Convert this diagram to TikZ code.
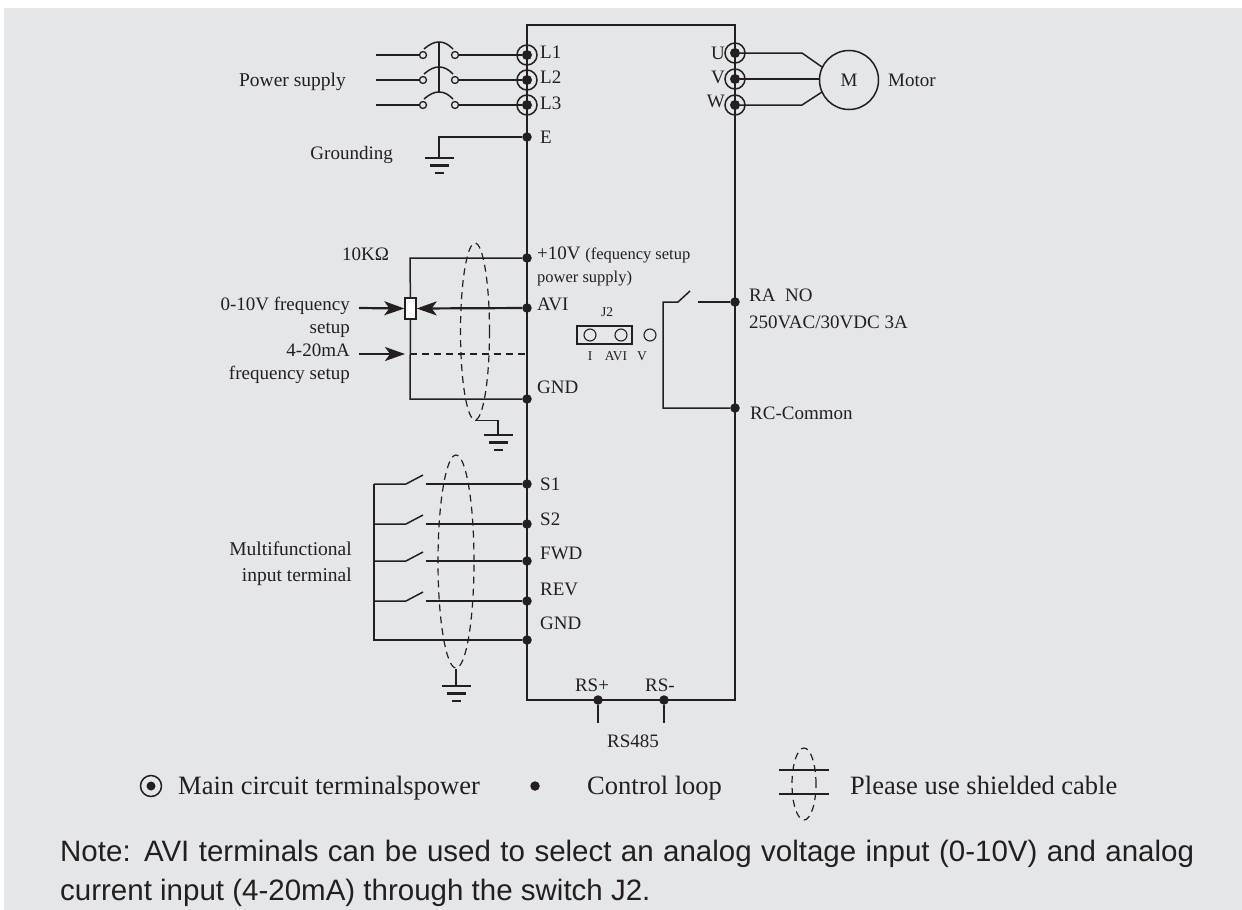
\documentclass[tikz,border=0pt]{standalone}
\usepackage{fontspec}
\setmainfont{Liberation Serif}
\newfontfamily\notefont{Liberation Sans}
\usetikzlibrary{arrows.meta,shapes.geometric}
\definecolor{ink}{HTML}{231F20}
\definecolor{panel}{HTML}{E5E6E8}
\tikzset{
  wire/.style={draw=ink, line width=2.2pt},
  thinwire/.style={draw=ink, line width=1.5pt},
  lbl/.style={font=\fontsize{19}{23}\selectfont, text=ink, inner sep=0pt},
  lbls/.style={font=\fontsize{16.5}{23}\selectfont, text=ink, inner sep=0pt},
  lblj/.style={font=\fontsize{13.5}{16}\selectfont, text=ink, inner sep=0pt},
  lbll/.style={font=\fontsize{26.5}{30}\selectfont, text=ink, inner sep=0pt, anchor=mid west, yshift=-6pt},
  txtw/.style={anchor=mid west, yshift=-4pt},
  txte/.style={anchor=mid east, yshift=-4pt},
  dot/.style={circle, fill=ink, draw=none, minimum size=9.5pt, inner sep=0pt},
  maindot/.style={dot, minimum size=10pt},
  ring/.style={circle, draw=ink, line width=1.5pt, minimum size=20pt, inner sep=0pt},
  contact/.style={circle, draw=ink, line width=1.3pt, minimum size=7pt, inner sep=0pt},
  jpin/.style={circle, draw=ink, line width=1.1pt, minimum size=12pt, inner sep=0pt},
  shield/.style={ellipse, draw=ink, line width=1.2pt, dash pattern=on 7pt off 5pt, inner sep=0pt},
  inarrow/.style={wire, -{Stealth[length=20pt,width=14pt,inset=5pt]}},
  gndsym/.pic={
    \draw[wire] (-14.5,0) -- (14.5,0);
    \draw[wire] (-9.5,7.5) -- (9.5,7.5);
    \draw[wire] (-4.5,15) -- (4.5,15);
  }
}
\begin{document}
\begin{tikzpicture}[x=1pt, y=-1pt]
  \useasboundingbox (0,0) rectangle (1242,910);
  \fill[panel] (4,8) rectangle (1242,910);

  \draw[wire] (527,25) rectangle (735,700);

  \node (L1) [maindot] at (527,55) {};
  \node (L2) [maindot] at (527,80) {};
  \node (L3) [maindot] at (527,105) {};
  \node (L1r) [ring] at (L1) {};
  \node (L2r) [ring] at (L2) {};
  \node (L3r) [ring] at (L3) {};
  \node (E) [dot] at (527,137) {};
  \node (U) [maindot] at (735,53) {};
  \node (V) [maindot] at (735,79) {};
  \node (W) [maindot] at (735,105) {};
  \node (Ur) [ring] at (U) {};
  \node (Vr) [ring] at (V) {};
  \node (Wr) [ring] at (W) {};
  \node (p10) [dot] at (527,258) {};
  \node (avi) [dot] at (527,308) {};
  \node (gnda) [dot] at (527,399) {};
  \node (s1) [dot] at (527,484) {};
  \node (s2) [dot] at (527,524) {};
  \node (fwd) [dot] at (527,561) {};
  \node (rev) [dot] at (527,601) {};
  \node (gndb) [dot] at (527,640) {};
  \node (ra) [dot] at (735,302) {};
  \node (rc) [dot] at (735,408) {};
  \node (rsp) [dot] at (598,700) {};
  \node (rsm) [dot] at (664,700) {};

  \node (la1) [contact] at (423,55) {};
  \node (lb1) [contact] at (455,55) {};
  \node (la2) [contact] at (423,80) {};
  \node (lb2) [contact] at (455,80) {};
  \node (la3) [contact] at (423,105) {};
  \node (lb3) [contact] at (455,105) {};
  \coordinate (in1) at (376,55);
  \coordinate (in2) at (376,80);
  \coordinate (in3) at (376,105);
  \draw[wire] (in1) -- (la1);
  \draw[wire] (in2) -- (la2);
  \draw[wire] (in3) -- (la3);
  \draw[wire] (lb1) -- (L1);
  \draw[wire] (lb2) -- (L2);
  \draw[wire] (lb3) -- (L3);
  \draw[thinwire] (424,49) .. controls (430,44) and (434,42) .. (439,42) .. controls (444,42) and (448,44) .. (453,49);
  \draw[thinwire] (424,74) .. controls (430,69) and (434,67) .. (439,67) .. controls (444,67) and (448,69) .. (453,74);
  \draw[thinwire] (424,99) .. controls (430,94) and (434,92) .. (439,92) .. controls (444,92) and (448,94) .. (453,99);
  \draw[wire] (439,42) -- (439,92);

  \coordinate (gnde) at (439,158);
  \draw[thinwire] (E) -| (gnde);
  \pic (ge) at (gnde) {gndsym};

  \node (mot) [circle, draw=ink, line width=1.5pt, minimum size=59pt, inner sep=0pt, lbl] at (849,80) {M};
  \draw[thinwire] (U) -- (802,53) -- (822,67);
  \draw[wire] (V) -- (mot.west |- V);
  \draw[thinwire] (W) -- (802,105) -- (822,92);

  \node (rpot) [rectangle, draw=ink, fill=white, line width=1.4pt, minimum width=11pt, minimum height=21pt, inner sep=0pt] at (410.5,308.5) {};
  \coordinate (top10) at (410,258);
  \coordinate (bot10) at (410,399);
  \coordinate (i1) at (359,308);
  \coordinate (i2) at (359,354);
  \coordinate (d1) at (410,354);
  \coordinate (d2) at (527,354);
  \coordinate (i2e) at (405,354);
  \draw[thinwire] (p10) -- (top10) -- (rpot);
  \draw[thinwire] (rpot) -- (bot10) -- (gnda);
  \draw[inarrow] (avi) -- (rpot.east);
  \draw[inarrow] (i1) -- (rpot.west);
  \draw[inarrow] (i2) -- (i2e);
  \draw[draw=ink, line width=1.2pt, dash pattern=on 7pt off 5pt] (d1) -- (d2);
  \node (sha) [shield, minimum width=29pt, minimum height=177pt] at (475,331.5) {};
  \coordinate (gsa) at (498,435);
  \draw[thinwire] (sha.south) -| (gsa);
  \pic (ga) at (gsa) {gndsym};

  \coordinate (bl1) at (374,484);
  \coordinate (bl2) at (374,524);
  \coordinate (bl3) at (374,561);
  \coordinate (bl4) at (374,601);
  \coordinate (bl5) at (374,640);
  \draw[thinwire] (bl1) -- (bl5) -- (gndb);
  \draw[thinwire] (bl1) -- (406,484) -- (423,475);
  \draw[thinwire] (bl2) -- (406,524) -- (423,515);
  \draw[thinwire] (bl3) -- (406,561) -- (423,552);
  \draw[thinwire] (bl4) -- (406,601) -- (423,592);
  \draw[wire] (426,484) -- (s1);
  \draw[wire] (426,524) -- (s2);
  \draw[wire] (426,561) -- (fwd);
  \draw[wire] (426,601) -- (rev);
  \node (shb) [shield, minimum width=36pt, minimum height=213pt] at (456,561.5) {};
  \coordinate (gsb) at (456,686);
  \draw[wire] (shb.south) -- (gsb);
  \pic (gb) at (gsb) {gndsym};

  \coordinate (rsa) at (598,723);
  \coordinate (rsb) at (664,723);
  \draw[thinwire] (rsp) -- (rsa);
  \draw[thinwire] (rsm) -- (rsb);

  \coordinate (rel) at (663,302);
  \draw[thinwire] (rc) -- (663,408) -- (rel) -- (678,302) -- (690,291);
  \draw[wire] (ra) -- (698,302);

  \node (jbox) [rectangle, draw=ink, line width=1.1pt, minimum width=55pt, minimum height=18pt, inner sep=0pt] at (604.5,335) {};
  \node (j1) [jpin] at (590,335) {};
  \node (j2) [jpin] at (621,335) {};
  \node (j3) [jpin] at (650,335) {};
  \node (jt) [lblj] at (607,312) {J2};
  \node (ji) [lblj] at (590,356) {I};
  \node (jm) [lblj] at (616,356) {AVI};
  \node (jv) [lblj] at (642,356) {V};

  \node (tl1) [lbl, txtw] at (540,52) {L1};
  \node (tl2) [lbl, txtw] at (540,77) {L2};
  \node (tl3) [lbl, txtw] at (540,103) {L3};
  \node (te) [lbl, txtw] at (540,137) {E};
  \node (tu) [lbl, txte] at (725,53) {U};
  \node (tv) [lbl, txte] at (725,77) {V};
  \node (tw) [lbl, txte] at (725,101) {W};
  \node (tmot) [lbl, txtw] at (888,80) {Motor};
  \node (tpow) [lbl, txte, font=\fontsize{19.5}{23}\selectfont] at (346,80) {Power supply};
  \node (tgrd) [lbl, txte] at (393,153) {Grounding};
  \node (t10k) [lbl, txtw] at (342,254) {10KΩ};
  \node (tfs) [lbl, anchor=east, align=right] at (350,340.5) {0-10V frequency\\setup\\4-20mA\\frequency setup};
  \node (tp10) [lbl, txtw] at (537,253) {+10V {\fontsize{16.5}{23}\selectfont (fequency setup}};
  \node (tp10b) [lbls, txtw] at (537,276) {power supply)};
  \node (tavi) [lbl, txtw] at (537,304) {AVI};
  \node (tgnda) [lbl, txtw] at (537,387) {GND};
  \node (tra) [lbl, txtw] at (749,295) {RA\ \ NO};
  \node (tac) [lbl, txtw] at (749,322) {250VAC/30VDC 3A};
  \node (trc) [lbl, txtw] at (750,413) {RC-Common};
  \node (ts1) [lbl, txtw] at (540,484) {S1};
  \node (ts2) [lbl, txtw] at (540,519) {S2};
  \node (tfwd) [lbl, txtw] at (540,553) {FWD};
  \node (trev) [lbl, txtw] at (540,589) {REV};
  \node (tgndb) [lbl, txtw] at (540,623) {GND};
  \node (tmul) [lbl, anchor=east, align=right, font=\fontsize{19.5}{26}\selectfont] at (352,564) {Multifunctional\\input terminal};
  \node (trsp) [lbl] at (592,685) {RS+};
  \node (trsm) [lbl] at (660,685) {RS-};
  \node (trs) [lbl] at (633,741) {RS485};

  \node (kdot) [dot, minimum size=9pt] at (151,786) {};
  \node (kring) [ring, minimum size=21pt] at (kdot) {};
  \node (k1) [lbll] at (178,786) {Main circuit terminalspower};
  \node (kctl) [dot] at (535,786) {};
  \node (k2) [lbll] at (587,786) {Control loop};
  \node (ksh) [shield, minimum width=24pt, minimum height=72pt] at (804,784) {};
  \coordinate (kla) at (779,770);
  \coordinate (klb) at (829,770);
  \coordinate (klc) at (779,794);
  \coordinate (kld) at (829,794);
  \draw[wire] (kla) -- (klb);
  \draw[wire] (klc) -- (kld);
  \node (k3) [lbll] at (850,786) {Please use shielded cable};

  \node (note) [anchor=north west, inner sep=0pt, text width=1134pt, align=justify, text=ink, font=\notefont\fontsize{29.5}{39}\selectfont] at (60,840) {Note: AVI terminals can be used to select an analog voltage input (0-10V) and analog\linebreak current input (4-20mA) through the switch J2.};
\end{tikzpicture}
\end{document}
